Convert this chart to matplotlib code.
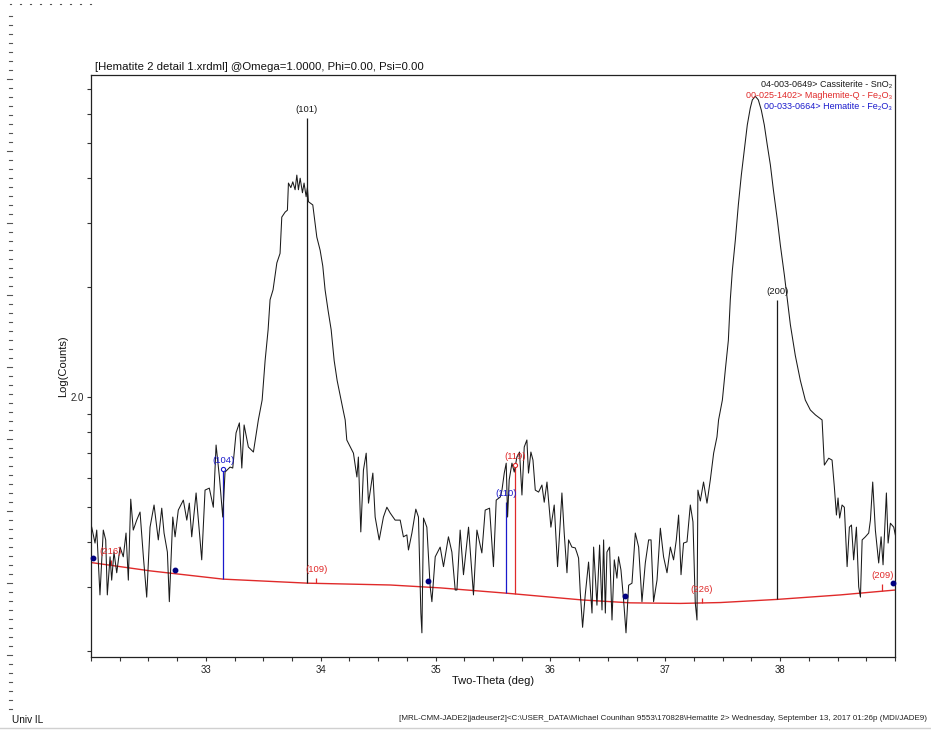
import numpy as np
import matplotlib
matplotlib.use("Agg")
import matplotlib.pyplot as plt
from matplotlib import font_manager
from matplotlib.lines import Line2D
from matplotlib.ticker import FixedLocator, FixedFormatter, NullFormatter, MultipleLocator

# ---------------------------------------------------------------- scan data
two_theta = [
    32.006, 32.035, 32.050, 32.078, 32.107, 32.128, 32.142, 32.166, 32.180, 32.200,
    32.224, 32.253, 32.281, 32.305, 32.325, 32.346, 32.368, 32.398, 32.427, 32.456,
    32.485, 32.514, 32.549, 32.586, 32.616, 32.636, 32.665, 32.682, 32.712, 32.732,
    32.760, 32.804, 32.834, 32.856, 32.877, 32.915, 32.964, 32.993, 33.030, 33.065,
    33.089, 33.118, 33.147, 33.167, 33.211, 33.234, 33.263, 33.292, 33.313, 33.333,
    33.370, 33.414, 33.457, 33.490, 33.516, 33.542, 33.559, 33.585, 33.618, 33.646,
    33.661, 33.690, 33.710, 33.719, 33.740, 33.757, 33.777, 33.792, 33.806, 33.821,
    33.841, 33.855, 33.873, 33.884, 33.893, 33.931, 33.966, 33.995, 34.018, 34.038,
    34.064, 34.091, 34.117, 34.143, 34.169, 34.195, 34.213, 34.227, 34.285, 34.315,
    34.328, 34.349, 34.372, 34.396, 34.416, 34.454, 34.474, 34.509, 34.546, 34.576,
    34.605, 34.648, 34.692, 34.720, 34.750, 34.764, 34.794, 34.828, 34.851, 34.872,
    34.881, 34.895, 34.924, 34.953, 34.968, 34.997, 35.040, 35.069, 35.112, 35.142,
    35.171, 35.186, 35.214, 35.243, 35.287, 35.330, 35.360, 35.403, 35.432, 35.470,
    35.504, 35.528, 35.563, 35.578, 35.598, 35.615, 35.627, 35.641, 35.665, 35.685,
    35.708, 35.731, 35.752, 35.772, 35.795, 35.809, 35.830, 35.848, 35.868, 35.897,
    35.926, 35.946, 35.970, 36.004, 36.033, 36.062, 36.085, 36.100, 36.120, 36.144,
    36.158, 36.187, 36.216, 36.231, 36.245, 36.260, 36.280, 36.303, 36.332, 36.362,
    36.376, 36.405, 36.428, 36.449, 36.463, 36.478, 36.492, 36.515, 36.536, 36.556,
    36.579, 36.593, 36.614, 36.637, 36.658, 36.681, 36.710, 36.739, 36.768, 36.797,
    36.826, 36.855, 36.876, 36.898, 36.928, 36.957, 36.985, 37.015, 37.044, 37.072,
    37.096, 37.116, 37.137, 37.159, 37.189, 37.218, 37.241, 37.261, 37.276, 37.284,
    37.305, 37.333, 37.363, 37.392, 37.421, 37.450, 37.464, 37.497, 37.523, 37.549,
    37.566, 37.584, 37.610, 37.636, 37.662, 37.688, 37.714, 37.740, 37.758, 37.784,
    37.810, 37.836, 37.862, 37.888, 37.915, 37.941, 37.976, 38.002, 38.037, 38.063,
    38.089, 38.132, 38.176, 38.219, 38.263, 38.307, 38.365, 38.385, 38.423, 38.452,
    38.472, 38.490, 38.504, 38.518, 38.539, 38.559, 38.583, 38.603, 38.621, 38.640,
    38.664, 38.684, 38.699, 38.714, 38.742, 38.771, 38.786, 38.806, 38.829, 38.858,
    38.879, 38.896, 38.925, 38.940, 38.960, 38.989, 39.003,
]
counts = [
    43.9, 39.7, 43.1, 28.6, 43.1, 40.5, 28.6, 36.4, 31.4, 37.5,
    32.9, 38.7, 36.4, 42.3, 31.4, 52.4, 43.1, 45.9, 48.3, 36.4,
    28.2, 43.9, 50.5, 40.5, 49.5, 42.3, 37.5, 27.4, 46.8, 41.3,
    48.9, 52.1, 45.9, 51.1, 41.3, 54.5, 35.7, 55.5, 56.2, 49.8,
    73.8, 60.3, 46.8, 62.2, 64.2, 63.8, 79.7, 84.9, 63.8, 83.8,
    72.9, 70.6, 86.5, 98.1, 126, 153, 185, 197, 233.5, 248,
    312, 322, 326, 387, 376, 390, 371, 407, 371, 399,
    364, 387, 355, 376, 344, 337, 275, 253, 229, 197,
    173, 153, 126, 111, 101, 92.1, 86.5, 76.2, 70.1, 60.3,
    68.4, 42.6, 63.0, 70.1, 51.1, 61.8, 46.8, 40.5, 46.8, 49.8,
    48.0, 45.9, 45.9, 41.3, 41.8, 38.0, 42.3, 49.2, 46.8, 25.5,
    22.5, 46.5, 43.9, 30.1, 27.4, 36.4, 38.7, 34.2, 41.3, 37.5,
    29.5, 29.5, 43.1, 32.5, 43.9, 28.6, 43.1, 37.3, 48.9, 49.5,
    34.2, 52.1, 53.1, 55.5, 61.8, 65.8, 46.8, 59.2, 65.8, 62.2,
    68.4, 70.6, 53.8, 72.9, 76.2, 61.8, 70.6, 67.1, 55.5, 54.8,
    57.3, 51.4, 58.4, 43.9, 50.5, 34.2, 45.0, 54.5, 42.3, 32.9,
    40.5, 38.7, 38.5, 37.3, 36.1, 29.0, 23.3, 28.6, 35.2, 25.5,
    38.7, 26.8, 39.2, 26.0, 40.5, 25.5, 37.5, 38.7, 24.4, 35.7,
    31.8, 36.4, 33.5, 27.7, 22.5, 30.4, 30.8, 42.3, 38.7, 27.4,
    35.0, 40.5, 40.5, 27.4, 31.4, 43.6, 36.4, 32.9, 38.7, 35.7,
    40.5, 47.4, 32.5, 39.7, 40.0, 50.5, 45.4, 27.2, 24.4, 55.5,
    51.8, 58.4, 51.1, 59.2, 70.1, 77.7, 86.5, 98.1, 119, 143,
    185, 223, 270, 337, 407, 477, 559, 622, 655, 670,
    655, 614, 559, 492, 434, 371, 306, 261, 216, 185,
    158, 130, 111, 98.1, 92.1, 89.3, 86.5, 65.0, 67.9, 67.1,
    56.6, 47.4, 52.8, 46.5, 50.5, 49.8, 34.2, 43.9, 44.5, 35.7,
    43.9, 30.1, 28.2, 40.5, 41.3, 42.3, 45.9, 58.4, 43.1, 35.0,
    41.3, 34.6, 54.5, 39.7, 45.0, 43.9, 41.8,
]

# fitted background curve and the background picks
bg_theta = [32.000, 32.514, 33.150, 33.890, 34.605, 35.040, 35.624,
            36.277, 36.695, 37.131, 37.480, 37.976, 38.525, 39.004]
bg_counts = [35.1, 33.3, 31.6, 30.8, 30.45, 29.9, 28.9,
             27.7, 27.2, 27.1, 27.25, 27.8, 28.6, 29.5]
bg_pick_theta = [32.017, 32.730, 34.935, 36.650, 38.986]
bg_pick_counts = [36.1, 33.5, 31.2, 28.4, 30.8]

# reference patterns (PDF cards): line position, top of stick, hkl
cass_card = "04-003-0649> Cassiterite - SnO\u2082"
cass_theta = [33.880, 37.975]
cass_top = [584, 185]
cass_hkl = ["(101)", "(200)"]

magh_card = "00-025-1402> Maghemite-Q - Fe\u2082O\u2083"
magh_theta = [32.170, 33.960, 35.690, 37.320, 38.890]
magh_top = [35.6, 31.8, 65.0, 28.1, 30.6]
magh_hkl = ["(216)", "(109)", "(119)", "(226)", "(209)"]
magh_marked = [False, False, True, False, False]

hem_card = "00-033-0664> Hematite - Fe\u2082O\u2083"
hem_theta = [33.150, 35.610]
hem_top = [63.4, 51.5]
hem_hkl = ["(104)", "(110)"]
hem_marked = [True, False]

x_major = [33, 34, 35, 36, 37, 38]
y_major = [100]
y_major_labels = ["2.0"]
y_minor = [20, 30, 40, 50, 60, 70, 80, 90, 200, 300, 400, 500, 600, 700]

title_text = "[Hematite 2 detail 1.xrdml] @Omega=1.0000, Phi=0.00, Psi=0.00"
footer_text = ("[MRL-CMM-JADE2|jadeuser2]<C:\\USER_DATA\\Michael Counihan 9553\\170828\\"
               "Hematite 2> Wednesday, September 13, 2017 01:26p (MDI/JADE9)")
site_text = "Univ IL"

# ---------------------------------------------------------------- styling
available = {f.name for f in font_manager.fontManager.ttflist}
if "Liberation Sans Narrow" in available:
    family, k = ["Liberation Sans Narrow", "DejaVu Sans"], 1.19
else:
    family, k = ["Liberation Sans", "DejaVu Sans"], 1.0
plt.rcParams["font.family"] = family

BLACK = "#1a1a1a"
RED = "#e02a2a"
BLUE = "#1a1acc"
NAVY = "#000080"

W, H = 931, 730
fig = plt.figure(figsize=(W / 100, H / 100), dpi=100)
ax = fig.add_axes([91 / W, 1 - 657 / H, (895 - 91) / W, (657 - 75) / H])

ax.set_xlim(32.0, 39.0)
ax.set_yscale("log")
ax.set_ylim(19.31, 766.6)

# scan
ax.plot(two_theta, counts, color=BLACK, lw=0.75, zorder=3)

# background
ax.plot(bg_theta, bg_counts, color=RED, lw=1.0, zorder=2)
ax.plot(bg_pick_theta, bg_pick_counts, "o", color=NAVY, ms=3.2, zorder=4, clip_on=False)


def draw_card(theta, top, hkl, color, lw, marked=None):
    base = np.interp(theta, bg_theta, bg_counts)
    ax.vlines(theta, base, top, color=color, lw=lw, zorder=2.5)
    for i, (t, tp, lab) in enumerate(zip(theta, top, hkl)):
        ax.annotate(lab, (t, tp), xytext=(0, 6), textcoords="offset points",
                    ha="center", va="center", color=color, fontsize=6.8 * k)
        if marked is not None and marked[i]:
            ax.plot([t], [tp], "o", mfc="white", mec=color, ms=3, mew=0.8, zorder=4)


draw_card(cass_theta, cass_top, cass_hkl, BLACK, 0.9)
draw_card(magh_theta, magh_top, magh_hkl, RED, 0.9, magh_marked)
draw_card(hem_theta, hem_top, hem_hkl, BLUE, 0.9, hem_marked)

# card legend, top right
for i, (txt, col) in enumerate([(cass_card, BLACK), (magh_card, RED), (hem_card, BLUE)]):
    yy = 85 + i * 10.5
    ax.text(892 / W, 1 - yy / H, txt, transform=fig.transFigure, ha="right",
            va="center", color=col, fontsize=6.5 * k)

# axes, ticks
for sp in ax.spines.values():
    sp.set_color("#222222")
    sp.set_linewidth(0.9)
ax.xaxis.set_major_locator(FixedLocator(x_major))
ax.xaxis.set_minor_locator(MultipleLocator(0.25))
ax.yaxis.set_major_locator(FixedLocator(y_major))
ax.yaxis.set_major_formatter(FixedFormatter(y_major_labels))
ax.yaxis.set_minor_locator(FixedLocator(y_minor))
ax.yaxis.set_minor_formatter(NullFormatter())
ax.tick_params(which="both", direction="out", length=3, width=0.8, color="#333333",
               labelsize=6.9 * k, labelcolor="#222222")
ax.tick_params(axis="x", which="both", pad=2.5)
ax.tick_params(axis="y", which="both", pad=2)

ax.set_xlabel("Two-Theta (deg)", fontsize=8 * k, color="#111111")
ax.xaxis.set_label_coords(0.5, -(681 - 657) / (657 - 75))
ax.xaxis.label.set_va("center")
ax.set_ylabel("Log(Counts)", fontsize=8 * k, color="#111111")
ax.yaxis.set_label_coords(-(91 - 63) / (895 - 91), 0.5)
ax.yaxis.label.set_va("center")

fig.text(95 / W, 1 - 67 / H, title_text, fontsize=8.2 * k, color="#111111",
         ha="left", va="center")
fig.text(399 / W, 1 - 719 / H, footer_text, fontsize=5.8 * k, color="#222222",
         ha="left", va="center")
fig.text(12 / W, 1 - 720 / H, site_text, fontsize=7.2 * k, color="#111111",
         ha="left", va="center")

# page ruler marks along the left and top margins
for j, yy in enumerate(np.arange(16, 716, 9)):
    long_mark = (j % 8 == 7)
    x0 = 7 if long_mark else 9
    fig.add_artist(Line2D([x0 / W, 12 / W], [1 - yy / H, 1 - yy / H],
                          color="#555555", lw=0.8, transform=fig.transFigure))
for xx in np.arange(10, 96, 10):
    fig.add_artist(Line2D([xx / W, (xx + 1.2) / W], [1 - 4 / H, 1 - 4 / H],
                          color="#555555", lw=0.8, transform=fig.transFigure))
fig.add_artist(Line2D([0, 1], [1 - 727.5 / H, 1 - 727.5 / H], color="#d0d0d0", lw=1.0,
                      transform=fig.transFigure))

fig.savefig("out.png", dpi=100)
